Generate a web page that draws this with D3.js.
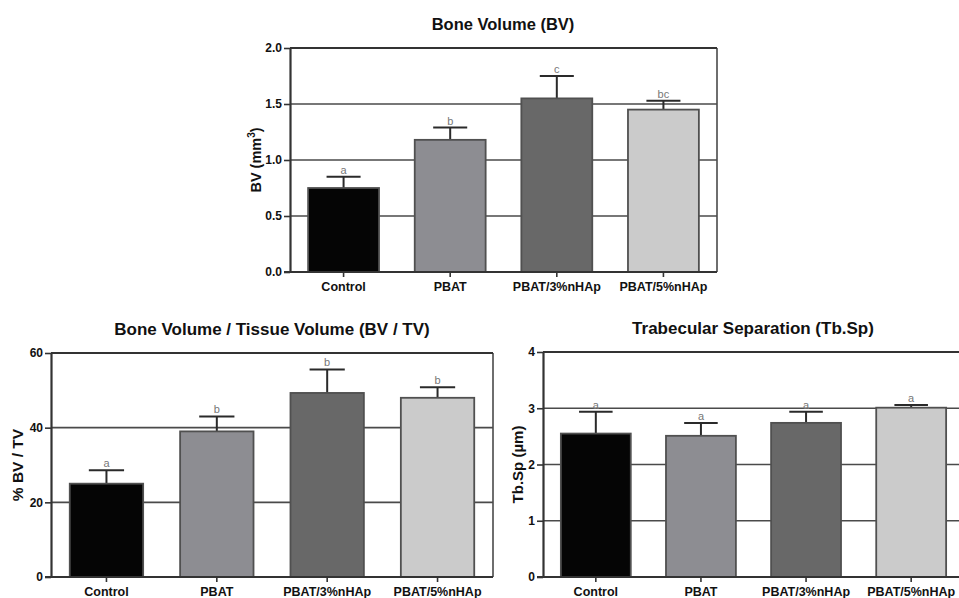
<!DOCTYPE html>
<html>
<head>
<meta charset="utf-8">
<script src="https://cdn.jsdelivr.net/npm/d3@7"></script>
<style>
  html, body { margin: 0; padding: 0; background: #fff; }
  svg { display: block; }
  text { font-family: "Liberation Sans", Arial, Helvetica, sans-serif; }
</style>
</head>
<body>
<svg id="chart" width="959" height="598"></svg>
<script>
// ---------- data ----------
const categories = ["Control", "PBAT", "PBAT/3%nHAp", "PBAT/5%nHAp"];
const barColors = ["#050505", "#8d8d92", "#686868", "#cbcbcb"];

const bvMeans = [0.75, 1.18, 1.55, 1.45];
const bvErrors = [0.10, 0.11, 0.20, 0.08];
const bvLetters = ["a", "b", "c", "bc"];
const bvTicks = [0, 0.5, 1.0, 1.5, 2.0];

const bvtvMeans = [25, 39, 49.3, 48];
const bvtvErrors = [3.6, 4.0, 6.3, 2.8];
const bvtvLetters = ["a", "b", "b", "b"];
const bvtvTicks = [0, 20, 40, 60];

const tbspMeans = [2.55, 2.51, 2.74, 3.01];
const tbspErrors = [0.39, 0.23, 0.20, 0.05];
const tbspLetters = ["a", "a", "a", "a"];
const tbspTicks = [0, 1, 2, 3, 4];

// ---------- drawing ----------
const svg = d3.select("#chart");

function drawPanel(cfg) {
  const g = svg.append("g");
  const x = d3.scaleBand().domain(categories)
    .range([cfg.left, cfg.right]).paddingInner(0.335).paddingOuter(0.17);
  const y = d3.scaleLinear().domain([0, cfg.ticks[cfg.ticks.length - 1]])
    .range([cfg.bottom, cfg.top]);

  // gridlines
  g.append("g").selectAll("line").data(cfg.ticks.slice(1)).join("line")
    .attr("x1", cfg.left).attr("x2", cfg.right)
    .attr("y1", d => y(d)).attr("y2", d => y(d))
    .attr("stroke", "#4a4a4a").attr("stroke-width", 1.6);

  // right border
  g.append("line")
    .attr("x1", cfg.right).attr("x2", cfg.right)
    .attr("y1", cfg.top).attr("y2", cfg.bottom)
    .attr("stroke", "#4a4a4a").attr("stroke-width", 1.6);

  const data = categories.map((c, i) => ({ c, m: cfg.means[i], e: cfg.errors[i], l: cfg.letters[i], col: barColors[i] }));

  // error bars (upper only)
  const capW = x.bandwidth() * 0.48;
  const eb = g.append("g");
  eb.selectAll("line.v").data(data).join("line").attr("class", "v")
    .attr("x1", d => x(d.c) + x.bandwidth() / 2).attr("x2", d => x(d.c) + x.bandwidth() / 2)
    .attr("y1", d => y(d.m)).attr("y2", d => y(d.m + d.e))
    .attr("stroke", "#2a2a2a").attr("stroke-width", 2);
  eb.selectAll("line.cap").data(data).join("line").attr("class", "cap")
    .attr("x1", d => x(d.c) + x.bandwidth() / 2 - capW / 2)
    .attr("x2", d => x(d.c) + x.bandwidth() / 2 + capW / 2)
    .attr("y1", d => y(d.m + d.e)).attr("y2", d => y(d.m + d.e))
    .attr("stroke", "#2a2a2a").attr("stroke-width", 2);

  // bars
  g.append("g").selectAll("rect").data(data).join("rect")
    .attr("x", d => x(d.c)).attr("width", x.bandwidth())
    .attr("y", d => y(d.m)).attr("height", d => y(0) - y(d.m))
    .attr("fill", d => d.col)
    .attr("stroke", "#505050").attr("stroke-width", 1.8);

  // significance letters
  g.append("g").selectAll("text").data(data).join("text")
    .attr("x", d => x(d.c) + x.bandwidth() / 2)
    .attr("y", d => y(d.m + d.e) - 3)
    .attr("text-anchor", "middle")
    .attr("font-size", 11).attr("fill", "#777777")
    .text(d => d.l);

  // y axis
  const yAxis = d3.axisLeft(y).tickValues(cfg.ticks).tickFormat(cfg.fmt)
    .tickSizeInner(6).tickSizeOuter(0).tickPadding(2);
  const ya = g.append("g").attr("transform", `translate(${cfg.left},0)`).call(yAxis);
  ya.select(".domain").attr("stroke", "#333").attr("stroke-width", 2.2);
  ya.selectAll(".tick line").attr("stroke", "#333").attr("stroke-width", 1.6);
  ya.selectAll(".tick text").attr("font-size", 12).attr("font-weight", "bold")
    .attr("fill", "#111").style("font-family", "'Liberation Sans', Arial, sans-serif");

  // x axis
  const xAxis = d3.axisBottom(x).tickSizeInner(5).tickSizeOuter(0).tickPadding(5);
  const xa = g.append("g").attr("transform", `translate(0,${cfg.bottom})`).call(xAxis);
  xa.select(".domain").attr("stroke", "#333").attr("stroke-width", 2.2)
    .attr("d", `M${cfg.left - 6},0H${cfg.right}`);
  xa.selectAll(".tick line").attr("stroke", "#333").attr("stroke-width", 1.6);
  xa.selectAll(".tick text").attr("font-size", 12.5).attr("font-weight", "bold")
    .attr("fill", "#111").style("font-family", "'Liberation Sans', Arial, sans-serif");

  // top border
  g.append("line")
    .attr("x1", cfg.left).attr("x2", cfg.right)
    .attr("y1", cfg.top).attr("y2", cfg.top)
    .attr("stroke", "#333").attr("stroke-width", 2);

  // title
  g.append("text")
    .attr("x", cfg.titleX).attr("y", cfg.top - 18)
    .attr("text-anchor", "middle")
    .attr("font-size", cfg.titleSize).attr("font-weight", "bold").attr("fill", "#111")
    .text(cfg.title);

  // y label
  const yl = g.append("text")
    .attr("transform", `translate(${cfg.ylabX},${(cfg.top + cfg.bottom) / 2}) rotate(-90)`)
    .attr("text-anchor", "middle")
    .attr("font-size", cfg.ylabSize).attr("font-weight", "bold").attr("fill", "#111");
  cfg.ylab(yl);
}

drawPanel({
  left: 290, right: 717, top: 48, bottom: 272,
  means: bvMeans, errors: bvErrors, letters: bvLetters, ticks: bvTicks,
  fmt: d3.format(".1f"), title: "Bone Volume (BV)", titleX: 503, titleSize: 16.5,
  ylabX: 261, ylabSize: 14.5,
  ylab: t => {
    t.append("tspan").text("BV (mm");
    t.append("tspan").attr("font-size", 10).attr("dy", -6).text("3");
    t.append("tspan").attr("dy", 6).text(")");
  }
});

drawPanel({
  left: 51, right: 493, top: 353, bottom: 577,
  means: bvtvMeans, errors: bvtvErrors, letters: bvtvLetters, ticks: bvtvTicks,
  fmt: d3.format("d"), title: "Bone Volume / Tissue Volume (BV / TV)", titleX: 272, titleSize: 17,
  ylabX: 23, ylabSize: 15.5,
  ylab: t => t.text("% BV / TV")
});

drawPanel({
  left: 543, right: 964, top: 352, bottom: 577,
  means: tbspMeans, errors: tbspErrors, letters: tbspLetters, ticks: tbspTicks,
  fmt: d3.format("d"), title: "Trabecular Separation (Tb.Sp)", titleX: 753, titleSize: 17,
  ylabX: 523, ylabSize: 15,
  ylab: t => t.text("Tb.Sp (µm)")
});
</script>
</body>
</html>
